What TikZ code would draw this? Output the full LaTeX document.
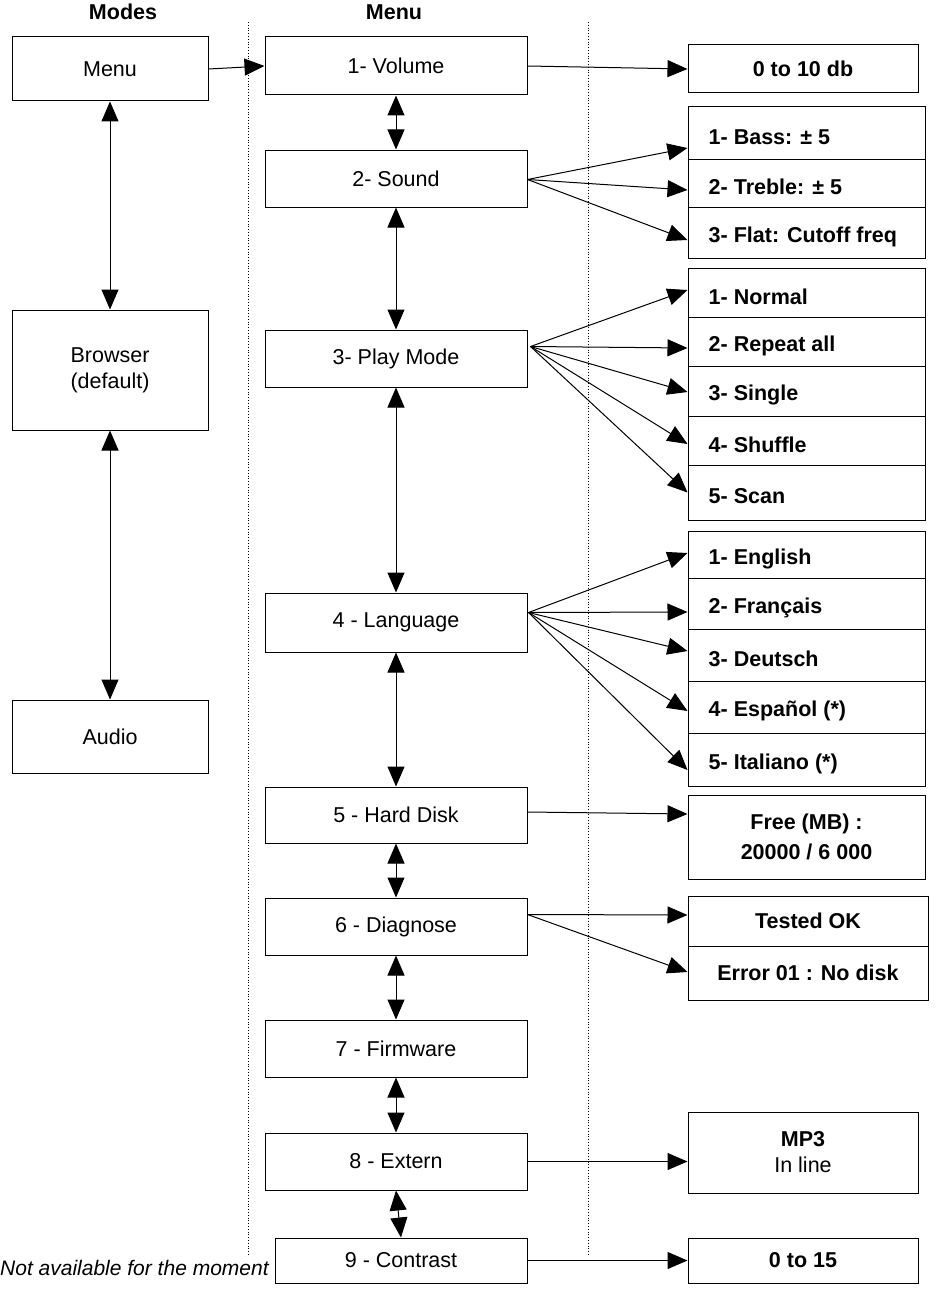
\documentclass[tikz,border=0pt]{standalone}
\usepackage{fontspec}
\setmainfont{Liberation Sans}
\usetikzlibrary{arrows.meta,calc}
\newcommand{\bx}[7][box]{%
  \pgfmathsetmacro{\cx}{(#3+#5)/2}\pgfmathsetmacro{\cy}{(#4+#6)/2}%
  \pgfmathsetmacro{\ww}{#5-#3}\pgfmathsetmacro{\hh}{#6-#4}%
  \node[#1,minimum width=\ww pt,minimum height=\hh pt] (#2) at (\cx,\cy) {#7};}
\newcommand{\fb}[6]{%
  \pgfmathsetmacro{\cx}{(#2+#4)/2}\pgfmathsetmacro{\cy}{(#3+#5)/2}%
  \pgfmathsetmacro{\ww}{#4-#2}\pgfmathsetmacro{\hh}{#5-#3}%
  \node[box,minimum width=\ww pt,minimum height=\hh pt,label={[lab]west:#6}] (#1) at (\cx,\cy) {};}
\begin{document}
\begin{tikzpicture}[x=1pt,y=-1pt,
  fnt/.style={font=\fontsize{21.5}{26}\selectfont},
  box/.style={draw,line width=1pt,inner sep=0pt,align=center,fnt},
  rbox/.style={box,font=\fontsize{21.5}{30}\selectfont\bfseries},
  lab/.style={anchor=west,xshift=21pt,yshift=-4pt,inner sep=0pt,font=\fontsize{21.5}{26}\selectfont\bfseries},
  ar/.style={-{Triangle[length=20pt,width=17pt]},line width=1pt},
  dar/.style={{Triangle[length=20pt,width=17pt]}-{Triangle[length=20pt,width=17pt]},line width=1pt},
  hd/.style={font=\fontsize{21.5}{26}\selectfont\bfseries}]
\useasboundingbox (0,0) rectangle (943,1295);
\draw[dotted,line width=0.8pt] (248,22) -- (248,1255) (588,22) -- (588,1255);
\node[hd] (hm) at (123,12) {Modes};
\node[hd] (hmenu) at (394,12) {Menu};
% modes
\bx{menu}{12}{37}{208}{101}{Menu}
\bx{browser}{12}{310}{208}{430}{Browser\\(default)}
\bx{audio}{12}{700}{208}{773}{Audio}
% menu column
\bx{m1}{265}{37}{527}{95}{1- Volume}
\bx{m2}{265}{150}{527}{207}{2- Sound}
\bx{m3}{265}{330}{527}{387}{3- Play Mode}
\bx{m4}{265}{593}{527}{652}{4 - Language}
\bx{m5}{265}{787}{527}{843}{5 - Hard Disk}
\bx{m6}{265}{898}{527}{955}{6 - Diagnose}
\bx{m7}{265}{1020}{527}{1077}{7 - Firmware}
\bx{m8}{265}{1133}{527}{1190}{8 - Extern}
\bx{m9}{275}{1238}{527}{1283}{9 - Contrast}
\node[anchor=base west,inner sep=0pt,font=\fontsize{21}{24}\selectfont\itshape] (na) at (0,1275) {Not available for the moment};
% right column
\bx[rbox]{r1}{688}{45}{918}{93}{0 to 10 db}
\fb{s1}{688}{107}{925}{159}{1- Bass: ± 5}
\fb{s2}{688}{159}{925}{207}{2- Treble: ± 5}
\fb{s3}{688}{207}{925}{258}{3- Flat: Cutoff freq}
\fb{p1}{688}{268}{925}{317}{1- Normal}
\fb{p2}{688}{317}{925}{366}{2- Repeat all}
\fb{p3}{688}{366}{925}{416}{3- Single}
\fb{p4}{688}{416}{925}{465}{4- Shuffle}
\fb{p5}{688}{465}{925}{520}{5- Scan}
\fb{l1}{688}{531}{925}{578}{1- English}
\fb{l2}{688}{578}{925}{629}{2- Français}
\fb{l3}{688}{629}{925}{681}{3- Deutsch}
\fb{l4}{688}{681}{925}{733}{4- Español (*)}
\fb{l5}{688}{733}{925}{786}{5- Italiano (*)}
\bx[rbox]{hd1}{688}{795}{925}{879}{Free (MB) :\\20000 / 6 000}
\bx[rbox]{d1}{688}{896}{928}{946}{\raisebox{-6pt}{Tested OK}}
\bx[rbox]{d2}{688}{946}{928}{1000}{\raisebox{-4pt}{Error 01 : No disk}}
\bx{e1}{688}{1112}{918}{1193}{\textbf{MP3}\\In line}
\bx[rbox]{c1}{688}{1238}{918}{1283}{\raisebox{-4pt}{0 to 15}}
% connectors
\draw[ar] (menu.east) -- (m1.west);
\draw[dar] (menu.south) -- (browser.north);
\draw[dar] (browser.south) -- (audio.north);
\draw[dar] (m1.south) -- (m2.north);
\draw[dar] (m2.south) -- (m3.north);
\draw[dar] (m3.south) -- (m4.north);
\draw[dar] (m4.south) -- (m5.north);
\draw[dar] (m5.south) -- (m6.north);
\draw[dar] (m6.south) -- (m7.north);
\draw[dar] (m7.south) -- (m8.north);
\draw[dar] (m8.south) -- (m9.north);
\draw[ar] (m1.east) -- (r1.west);
\coordinate (so) at ($(m2.east)+(0,1)$);
\draw[ar] (so) -- ($(s1.west)+(0,15)$);
\draw[ar] (so) -- ($(s2.west)+(0,7)$);
\draw[ar] (so) -- ($(s3.west)+(0,7.5)$);
\coordinate (po) at ($(m3.east)+(3,-12)$);
\draw[ar] (po) -- ($(p1.west)+(0,-2.5)$);
\draw[ar] (po) -- ($(p2.west)+(0,6.5)$);
\draw[ar] (po) -- ($(p3.west)+(0,1)$);
\draw[ar] (po) -- ($(p4.west)+(0,3.5)$);
\draw[ar] (po) -- ($(p5.west)+(0,0)$);
\coordinate (lo) at ($(m4.east)+(1,-10)$);
\draw[ar] (lo) -- ($(l1.west)+(0,-1.5)$);
\draw[ar] (lo) -- ($(l2.west)+(0,8.5)$);
\draw[ar] (lo) -- ($(l3.west)+(0,-4)$);
\draw[ar] (lo) -- ($(l4.west)+(0,4)$);
\draw[ar] (lo) -- ($(l5.west)+(0,10.5)$);
\draw[ar] ($(m5.east)+(0,-3)$) -- ($(hd1.west)+(0,-23)$);
\draw[ar] ($(m6.east)+(0,-12)$) -- ($(d1.west)+(0,-6)$);
\draw[ar] ($(m6.east)+(0,-12)$) -- ($(d2.west)+(0,-1)$);
\draw[ar] ($(m8.east)+(0,0)$) -- ($(e1.west)+(0,9)$);
\draw[ar] (m9.east) -- (c1.west);
\end{tikzpicture}
\end{document}
